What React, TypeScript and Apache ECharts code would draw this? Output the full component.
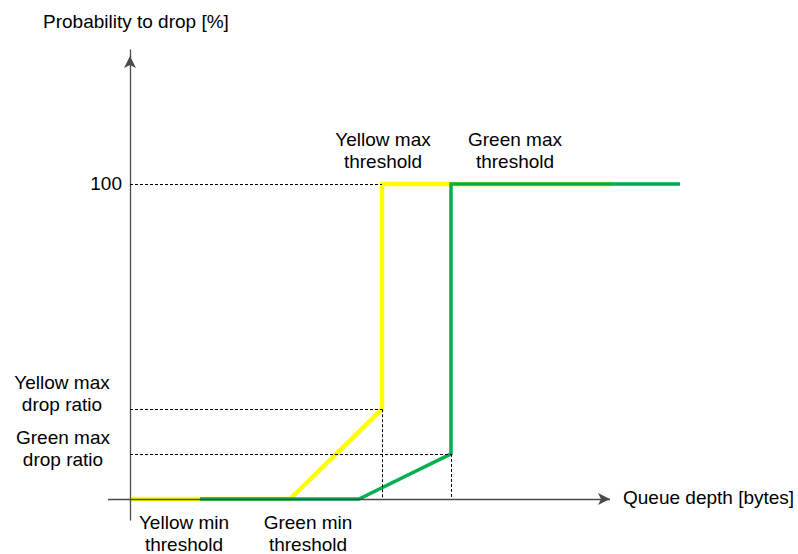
import React, { useEffect, useRef } from "react";
import * as echarts from "echarts";

// Queue depth (arbitrary byte units) and drop probability (%) of the WRED curves
const yellowDepth = [1, 160, 252, 252, 482];
const yellowProb = [0, 0, 28.5, 100, 100];
const greenDepth = [70, 229, 321, 321, 550];
const greenProb = [0, 0, 14.3, 100, 100];

const yellowMinThreshold = 160;
const greenMinThreshold = 229;
const yellowMaxThreshold = 252;
const greenMaxThreshold = 321;
const yellowMaxDropRatio = 28.5;
const greenMaxDropRatio = 14.3;
const fullDrop = 100;

const depthAxisStart = -22;
const depthAxisArrowEnd = 480;

const xTitle = "Queue depth [bytes]";
const yTitle = "Probability to drop [%]";

const FONT = '"Liberation Sans", Arial, Helvetica, sans-serif';

export default function App() {
  const ref = useRef<HTMLDivElement>(null);

  useEffect(() => {
    if (!ref.current) return;
    const chart = echarts.init(ref.current, undefined, { renderer: "svg" });
    const dashed = { color: "#000", width: 1, type: [3, 2] as any };
    const mk = (a: number[], b: number[]) => [{ coord: a }, { coord: b }];
    chart.setOption({
      animation: false,
      grid: { left: 108, right: 118, top: 50, bottom: 34 },
      xAxis: {
        type: "value",
        min: depthAxisStart,
        max: 550,
        axisLine: { show: false, onZero: true },
        axisTick: { show: false },
        axisLabel: { show: false },
        splitLine: { show: false },
      },
      yAxis: {
        type: "value",
        min: -6.67,
        max: 142.54,
        axisLine: {
          show: true,
          onZero: true,
          symbol: ["none", "arrow"],
          symbolSize: [9, 12],
          symbolOffset: [0, -6],
          lineStyle: { color: "#4a4a4a", width: 1.3 },
        },
        axisTick: { show: false },
        axisLabel: { show: false },
        splitLine: { show: false },
      },
      series: [
        {
          type: "line",
          data: [],
          silent: true,
          markLine: {
            silent: true,
            symbol: ["none", "none"],
            label: { show: false },
            lineStyle: dashed,
            data: [
              mk([0, fullDrop], [yellowMaxThreshold, fullDrop]),
              mk([0, yellowMaxDropRatio], [yellowMaxThreshold, yellowMaxDropRatio]),
              mk([0, greenMaxDropRatio], [greenMaxThreshold, greenMaxDropRatio]),
              mk([yellowMaxThreshold, yellowMaxDropRatio], [yellowMaxThreshold, 0]),
              mk([greenMaxThreshold, greenMaxDropRatio], [greenMaxThreshold, 0]),
            ],
          },
        },
        {
          type: "line",
          data: [],
          silent: true,
          markLine: {
            silent: true,
            symbol: ["none", "arrow"],
            symbolSize: [9, 12],
            label: { show: false },
            lineStyle: { color: "#4a4a4a", width: 1.3, type: "solid" },
            data: [mk([depthAxisStart, 0], [depthAxisArrowEnd, 0])],
          },
        },
        {
          type: "line",
          clip: false,
          showSymbol: false,
          symbol: "none",
          data: yellowDepth.map((x, i) => [x, yellowProb[i]]),
          lineStyle: { color: "#FFFF00", width: 4.5, join: "miter", cap: "butt" },
          silent: true,
        },
        {
          type: "line",
          clip: false,
          showSymbol: false,
          symbol: "none",
          data: greenDepth.map((x, i) => [x, greenProb[i]]),
          lineStyle: { color: "#00B050", width: 3.5, join: "miter", cap: "butt" },
          silent: true,
        },
      ],
    });

    const px = (x: number, y: number) =>
      chart.convertToPixel({ gridIndex: 0 }, [x, y]) as number[];
    const origin = px(0, 0);
    const ax = origin[0];
    const ay = origin[1];
    const txt = (
      text: string,
      x: number,
      y: number,
      align: string = "center"
    ) => ({
      type: "text",
      x,
      y,
      silent: true,
      style: {
        text,
        fill: "#000",
        fontSize: 19,
        fontFamily: FONT,
        align,
        verticalAlign: "middle",
        lineHeight: 22,
      },
    });
    const xEnd = px(depthAxisArrowEnd, 0)[0];
    chart.setOption({
      graphic: [
        txt(yTitle, 43, 21, "left"),
        txt(xTitle, xEnd + 13, ay - 1, "left"),
        txt("100", ax - 8, px(0, fullDrop)[1], "right"),
        txt("Yellow max\ndrop ratio", ax - 68, px(0, yellowMaxDropRatio)[1] - 16),
        txt("Green max\ndrop ratio", ax - 67, px(0, greenMaxDropRatio)[1] - 5),
        txt("Yellow min\nthreshold", px(yellowMinThreshold, 0)[0] - 106, ay + 35),
        txt("Green min\nthreshold", px(greenMinThreshold, 0)[0] - 51, ay + 35),
        txt("Yellow max\nthreshold", px(yellowMaxThreshold, 0)[0] + 1, px(0, fullDrop)[1] - 33),
        txt("Green max\nthreshold", px(greenMaxThreshold, 0)[0] + 64, px(0, fullDrop)[1] - 33),
      ],
    });

    return () => chart.dispose();
  }, []);

  return (
    <div
      ref={ref}
      style={{ position: "fixed", left: 0, top: 0, width: 798, height: 554, background: "#fff" }}
    />
  );
}
